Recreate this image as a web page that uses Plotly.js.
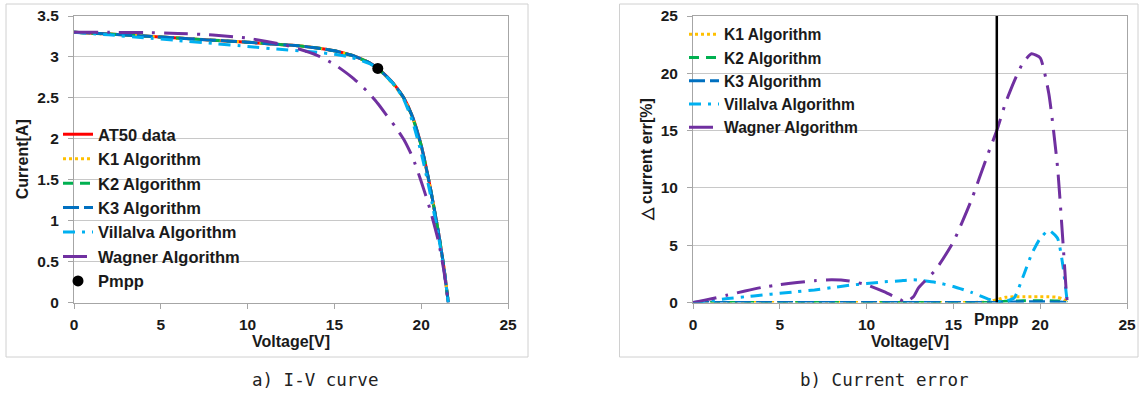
<!DOCTYPE html>
<html>
<head>
<meta charset="utf-8">
<script src="https://cdn.plot.ly/plotly-3.0.1.min.js"></script>
<style>html,body{margin:0;padding:0;background:#fff;}#chart{width:1147px;height:395px;}</style>
</head>
<body>
<div id="chart"></div>
<script>
// ---------- data: a) I-V curve ----------
const voltageIV = [0,2,4,6,8,10,12,13,14,15,16,16.5,17,17.5,18,18.5,19,19.5,20,20.5,21,21.3,21.56];
const currentAT50 = [3.30,3.28,3.255,3.23,3.205,3.18,3.15,3.135,3.11,3.075,3.02,2.98,2.93,2.86,2.765,2.65,2.50,2.27,1.92,1.43,0.85,0.44,0];
const currentK1 = [3.30,3.28,3.255,3.23,3.205,3.18,3.15,3.135,3.11,3.075,3.02,2.98,2.93,2.855,2.755,2.64,2.49,2.26,1.91,1.42,0.845,0.44,0];
const currentK2 = [3.30,3.28,3.255,3.23,3.205,3.18,3.15,3.135,3.11,3.075,3.02,2.98,2.93,2.858,2.762,2.647,2.496,2.266,1.917,1.428,0.849,0.44,0];
const currentK3 = [3.30,3.28,3.255,3.23,3.205,3.18,3.15,3.135,3.11,3.075,3.02,2.98,2.93,2.86,2.764,2.649,2.498,2.268,1.919,1.429,0.85,0.44,0];
const currentVillalva = [3.30,3.27,3.235,3.20,3.165,3.128,3.09,3.074,3.056,3.032,2.993,2.96,2.92,2.857,2.76,2.645,2.48,2.21,1.83,1.35,0.80,0.42,0];
const currentWagner = [3.30,3.30,3.298,3.287,3.268,3.229,3.153,3.094,3.02,2.91,2.754,2.66,2.555,2.431,2.29,2.15,1.99,1.777,1.479,1.145,0.741,0.397,0];
const vmpp = [17.5];
const impp = [2.86];

// ---------- data: b) Current error ----------
const voltageErr = [0,1,2,3,4,5,6,7,8,9,10,11,12,12.2,12.7,13,14,15,16,17,17.5,18,18.5,19,19.5,20,20.5,21,21.3,21.5,21.56];
const errK1 = [0,0,0,0,0,0,0,0,0,0,0,0,0,0,0,0,0,0,0,0.05,0.25,0.45,0.5,0.5,0.5,0.5,0.5,0.45,0.3,0.1,0];
const errK2 = [0,0,0,0,0,0,0,0,0,0,0,0,0,0,0,0,0,0,0,0,0.05,0.1,0.12,0.15,0.15,0.15,0.15,0.12,0.08,0.03,0];
const errK3 = [0,0,0,0,0,0,0,0,0,0,0,0,0,0,0,0,0,0,0,0,0,0.03,0.05,0.06,0.06,0.06,0.05,0.04,0.03,0.01,0];
const errVillalva = [0,0.15,0.35,0.5,0.65,0.8,0.95,1.1,1.3,1.5,1.65,1.8,1.9,1.92,1.98,1.95,1.75,1.4,0.9,0.3,0.1,0.1,0.4,2.2,4.2,5.6,6.3,5.6,3.3,0.8,0];
const errWagner = [0,0.3,0.65,1.0,1.33,1.55,1.75,1.9,1.98,1.88,1.55,0.95,0.2,0,0.5,1.3,2.9,5.3,8.8,13.0,15.0,17.4,19.3,20.9,21.7,21.35,18.2,11.8,5.5,1.0,0];
const pmppLineY = [0,25];

// ---------- styling ----------
const names = ['AT50 data','K1 Algorithm','K2 Algorithm','K3 Algorithm','Villalva Algorithm','Wagner Algorithm'];
const colors = {at50:'#FF0000',k1:'#FFC000',k2:'#00B050',k3:'#0070C0',vil:'#00B0F0',wag:'#7030A0'};
const dashes = {k1:'3px,3px',k2:'10px,7px',k3:'16px,5px',vil:'12px,7px,3px,7px',wag:'24px,9px,3px,9px'};
const txt = '#1a1a1a';
const FAM = '"Liberation Sans", Arial, sans-serif';
const tickF = {family:FAM, size:15.5, color:txt, weight:700};
const titleF = {family:FAM, size:16, color:txt, weight:700};

function ln(x, y, name, color, dash, xa, ya, leg, show) {
  return {x:x, y:y, name:name, type:'scatter', mode:'lines', xaxis:xa, yaxis:ya, legend:leg,
    showlegend:show, line:{color:color, width:3, dash:dash, shape:'spline', smoothing:0.5}};
}

const traces = [
  ln(voltageIV, currentAT50, names[0], colors.at50, 'solid', 'x', 'y', 'legend', true),
  ln(voltageIV, currentK1, names[1], colors.k1, dashes.k1, 'x', 'y', 'legend', true),
  ln(voltageIV, currentK2, names[2], colors.k2, dashes.k2, 'x', 'y', 'legend', true),
  ln(voltageIV, currentK3, names[3], colors.k3, dashes.k3, 'x', 'y', 'legend', true),
  ln(voltageIV, currentVillalva, names[4], colors.vil, dashes.vil, 'x', 'y', 'legend', true),
  ln(voltageIV, currentWagner, names[5], colors.wag, dashes.wag, 'x', 'y', 'legend', true),
  {x:vmpp, y:impp, name:'Pmpp', type:'scatter', mode:'markers', xaxis:'x', yaxis:'y', legend:'legend',
   marker:{color:'#000', size:11}},
  ln(voltageErr, errK1, names[1], colors.k1, dashes.k1, 'x2', 'y2', 'legend2', true),
  ln(voltageErr, errK2, names[2], colors.k2, dashes.k2, 'x2', 'y2', 'legend2', true),
  ln(voltageErr, errK3, names[3], colors.k3, dashes.k3, 'x2', 'y2', 'legend2', true),
  ln(voltageErr, errVillalva, names[4], colors.vil, dashes.vil, 'x2', 'y2', 'legend2', true),
  ln(voltageErr, errWagner, names[5], colors.wag, dashes.wag, 'x2', 'y2', 'legend2', true),
  {x:[vmpp[0], vmpp[0]], y:pmppLineY, type:'scatter', mode:'lines', xaxis:'x2', yaxis:'y2',
   showlegend:false, line:{color:'#000', width:2.5}}
];

const W = 1147, H = 395;
const px = v => v / W, py = v => 1 - v / H;

function xax(dom) {
  return {domain:dom, range:[0,25], dtick:5, tick0:0, showgrid:false, zeroline:false,
    showline:true, linecolor:'#A6A6A6', linewidth:1, mirror:true,
    ticks:'outside', ticklen:5, tickcolor:'#A6A6A6', tickfont:tickF, ticklabelstandoff:3,
    title:{text:'Voltage[V]', font:titleF, standoff:2}, fixedrange:true};
}
function yax(range, dtick, title) {
  return {domain:[py(302.5), py(16)], range:range, dtick:dtick, tick0:0, showgrid:true,
    gridcolor:'#C8C8C8', gridwidth:1, zeroline:false, showline:true, linecolor:'#A6A6A6',
    linewidth:1, mirror:true, ticks:'outside', ticklen:5, tickcolor:'#A6A6A6', tickfont:tickF,
    ticklabelstandoff:6,
    title:{text:title, font:titleF, standoff:4}, fixedrange:true};
}

const layout = {
  width:W, height:H, margin:{l:0,r:0,t:0,b:0}, paper_bgcolor:'#fff', plot_bgcolor:'#fff',
  showlegend:true,
  xaxis: xax([px(74), px(508)]),
  yaxis: yax([0,3.5], 0.5, 'Current[A]'),
  xaxis2: Object.assign(xax([px(693), px(1127)]), {anchor:'y2'}),
  yaxis2: Object.assign(yax([0,25], 5, '△ current err[%]'), {anchor:'x2'}),
  legend: {x:px(58), y:py(117), xanchor:'left', yanchor:'top', bgcolor:'rgba(0,0,0,0)',
    font:{family:FAM, size:16.5, color:txt, weight:700}, itemwidth:30, tracegroupgap:0},
  legend2: {x:px(684), y:py(17.5), xanchor:'left', yanchor:'top', bgcolor:'rgba(0,0,0,0)',
    font:{family:FAM, size:15.6, color:txt, weight:700}, itemwidth:30, tracegroupgap:0},
  shapes: [
    {type:'rect', xref:'paper', yref:'paper', x0:px(6), x1:px(528), y0:py(357), y1:py(4),
     line:{color:'#D0D0D0', width:1}},
    {type:'rect', xref:'paper', yref:'paper', x0:px(619.5), x1:px(1138), y0:py(357), y1:py(4),
     line:{color:'#D0D0D0', width:1}}
  ],
  annotations: [
    {text:'Pmpp', xref:'x2', yref:'y2', x:vmpp[0], y:0, yshift:-17, showarrow:false, font:titleF},
    {text:'a) I-V curve', xref:'paper', yref:'paper', x:px(315), y:py(380), xanchor:'center', yanchor:'middle',
     showarrow:false, font:{family:'"DejaVu Sans Mono", monospace', size:17.5, color:'#222'}},
    {text:'b) Current error', xref:'paper', yref:'paper', x:px(884), y:py(380), xanchor:'center', yanchor:'middle',
     showarrow:false, font:{family:'"DejaVu Sans Mono", monospace', size:17.5, color:'#222'}}
  ]
};

Plotly.newPlot('chart', traces, layout, {displayModeBar:false, staticPlot:true});
</script>
</body>
</html>
